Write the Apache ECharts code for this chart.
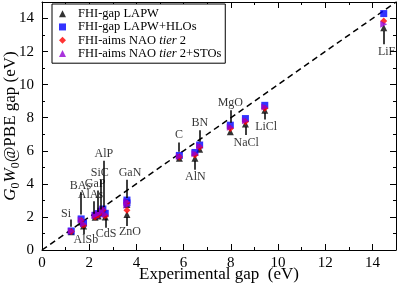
<!DOCTYPE html>
<html><head><meta charset="utf-8">
<script src="https://cdn.jsdelivr.net/npm/echarts@6/dist/echarts.min.js"></script>
<style>html,body{margin:0;padding:0;background:#fff}#c{width:399px;height:285px}</style>
</head><body><div id="c"></div>
<script>
// ---- data ----
const materials   = ['Si','BAs','AlSb','AlAs','GaP','SiC','AlP','CdS','GaN','ZnO','C','BN','AlN','MgO','NaCl','LiCl','LiF'];
const expGap      = [1.24, 1.66, 1.76, 2.25, 2.38, 2.50, 2.58, 2.68, 3.60, 3.60, 5.82, 6.68, 6.48, 7.98, 8.62, 9.44, 14.48];
const lapw        = [1.10, 1.70, 1.45, 1.98, 2.05, 2.25, 2.35, 2.00, 2.75, 2.15, 5.55, 6.10, 5.55, 7.15, 7.62, 8.45, 13.45];
const lapwHlo     = [1.15, 1.88, 1.62, 2.10, 2.20, 2.35, 2.48, 2.22, 3.02, 2.85, 5.72, 6.35, 5.90, 7.55, 7.95, 8.75, 14.30];
const naoTier2    = [1.12, 1.78, 1.48, 2.00, 2.12, 2.28, 2.40, 2.05, 2.85, 2.40, 5.62, 6.22, 5.75, 7.35, 7.75, 8.58, 13.85];
const naoTier2Sto = [1.13, 1.82, 1.58, 2.08, 2.18, 2.32, 2.45, 2.15, 2.92, 2.70, 5.66, 6.28, 5.82, 7.42, 7.82, 8.65, 13.65];
const seriesNames = ['FHI-gap LAPW','FHI-gap LAPW+HLOs','FHI-aims NAO tier 2','FHI-aims NAO tier 2+STOs'];
const diagonal    = [0, 15];

// ---- annotation layout (label centre, arrow x, arrow from-y, to-y) in data units ----
const annot = {
  Si:  [1.02, 2.20, 1.20, 1.85, 1.40],
  BAs: [1.63, 3.90, 1.66, 3.50, 2.15],
  AlSb:[1.86, 0.60, 1.78, 0.95, 1.35],
  AlAs:[2.05, 3.33, 2.20, 2.95, 2.20],
  GaP: [2.25, 4.00, 2.35, 3.60, 2.30],
  SiC: [2.45, 4.66, 2.48, 4.25, 2.45],
  AlP: [2.62, 5.80, 2.60, 5.40, 2.60],
  CdS: [2.72, 0.97, 2.70, 1.35, 1.90],
  GaN: [3.73, 4.66, 3.60, 4.25, 3.15],
  ZnO: [3.73, 1.10, 3.60, 1.45, 2.00],
  C:   [5.80, 6.95, 5.80, 6.50, 5.95],
  BN:  [6.69, 7.68, 6.68, 7.25, 6.55],
  AlN: [6.50, 4.40, 6.48, 4.85, 5.40],
  MgO: [7.98, 8.90, 7.98, 8.45, 7.70],
  NaCl:[8.65, 6.50, 8.62, 6.95, 7.45],
  LiCl:[9.50, 7.44, 9.44, 7.90, 8.30],
  LiF: [14.6, 12.0, 14.48, 12.45, 13.25]
};

const serif = '"Liberation Serif","DejaVu Serif",serif';
const pairs = v => expGap.map((x,i)=>[x, v[i]]);

function mkAxis(isX, pos, labels){
  return {
    type:'value', min:0, max:15, interval:2, position:pos,
    axisLine:{show:true, onZero:false, lineStyle:{color:'#000', width:1}},
    axisTick:{show:true, inside:true, length:6, lineStyle:{color:'#000', width:1}},
    minorTick:{show:true, splitNumber:2, length:3, lineStyle:{color:'#000', width:1}},
    splitLine:{show:false}, minorSplitLine:{show:false},
    axisLabel:{show:labels, showMaxLabel:false, color:'#000', fontSize:15, fontFamily:serif, margin:isX?6:8}
  };
}

const xMain = mkAxis(true,'bottom',true);
xMain.name = 'Experimental gap  (eV)';
xMain.nameLocation = 'middle';
xMain.nameGap = 16;
xMain.nameMoveOverlap = false;
xMain.nameTextStyle = {color:'#000', fontSize:17, fontFamily:serif, verticalAlign:'top'};
const yMain = mkAxis(false,'left',true);
yMain.name = '{i|G}{s|0}{i|W}{s|0}{n|@PBE gap (eV)}';
yMain.nameLocation = 'middle';
yMain.nameGap = 20;
yMain.nameMoveOverlap = false;
yMain.nameTextStyle = {color:'#000', fontSize:17, fontFamily:serif, rich:{
  i:{fontStyle:'italic', fontSize:17, fontFamily:serif, color:'#000', lineHeight:22},
  s:{fontSize:12, fontFamily:serif, color:'#000', lineHeight:12, verticalAlign:'bottom'},
  n:{fontSize:17, fontFamily:serif, color:'#000', lineHeight:22}
}};

const labelData = materials.map(m => ({name:m, value:[annot[m][0], annot[m][1]]}));
const arrowData = materials.map(m => [{coord:[annot[m][2], annot[m][3]]},{coord:[annot[m][2], annot[m][4]]}]);

const chart = echarts.init(document.getElementById('c'), null, {renderer:'canvas'});
chart.setOption({
  animation:false,
  backgroundColor:'#fff',
  grid:{left:42, right:3, top:2, bottom:35, containLabel:false, outerBoundsMode:'none'},
  xAxis:[xMain, mkAxis(true,'top',false)],
  yAxis:[yMain, mkAxis(false,'right',false)],
  legend:{
    data:seriesNames, orient:'vertical', left:52, top:4,
    backgroundColor:'#fff', borderColor:'#000', borderWidth:1, borderRadius:0,
    padding:[3,4,3,7], itemWidth:7, itemHeight:7, itemGap:0,
    textStyle:{color:'#000', fontSize:12.5, lineHeight:13.3, fontFamily:serif, padding:[0,0,0,7],
      rich:{it:{fontStyle:'italic', fontSize:12.5, lineHeight:13.3, fontFamily:serif, color:'#000'}}},
    formatter: n => n.replace('tier','{it|tier}')
  },
  series:[
    {type:'line', data:diagonal.map(v=>[v,v]), showSymbol:false, silent:true, z:1,
     lineStyle:{color:'#000', width:1.5, type:[6,4]}},
    {name:seriesNames[0], type:'scatter', data:pairs(lapw), symbol:'triangle', symbolSize:7, itemStyle:{color:'#000'}, z:3},
    {name:seriesNames[1], type:'scatter', data:pairs(lapwHlo), symbol:'rect', symbolSize:7, itemStyle:{color:'#0000ff'}, z:3},
    {name:seriesNames[2], type:'scatter', data:pairs(naoTier2), symbol:'diamond', symbolSize:7, itemStyle:{color:'#ff0000'}, z:3},
    {name:seriesNames[3], type:'scatter', data:pairs(naoTier2Sto), symbol:'triangle', symbolRotate:-90, symbolSize:7, itemStyle:{color:'#9400d3'}, z:3},
    {type:'scatter', data:labelData, symbolSize:0, silent:true, z:4,
     label:{show:true, position:'inside', formatter:'{b}', color:'#000', fontSize:12, fontFamily:serif},
     markLine:{silent:true, animation:false, symbol:['none','arrow'], symbolSize:[0,7],
       label:{show:false}, lineStyle:{color:'#000', width:1.5, type:'solid'},
       emphasis:{disabled:true}, data:arrowData}}
  ]
});
</script></body></html>
